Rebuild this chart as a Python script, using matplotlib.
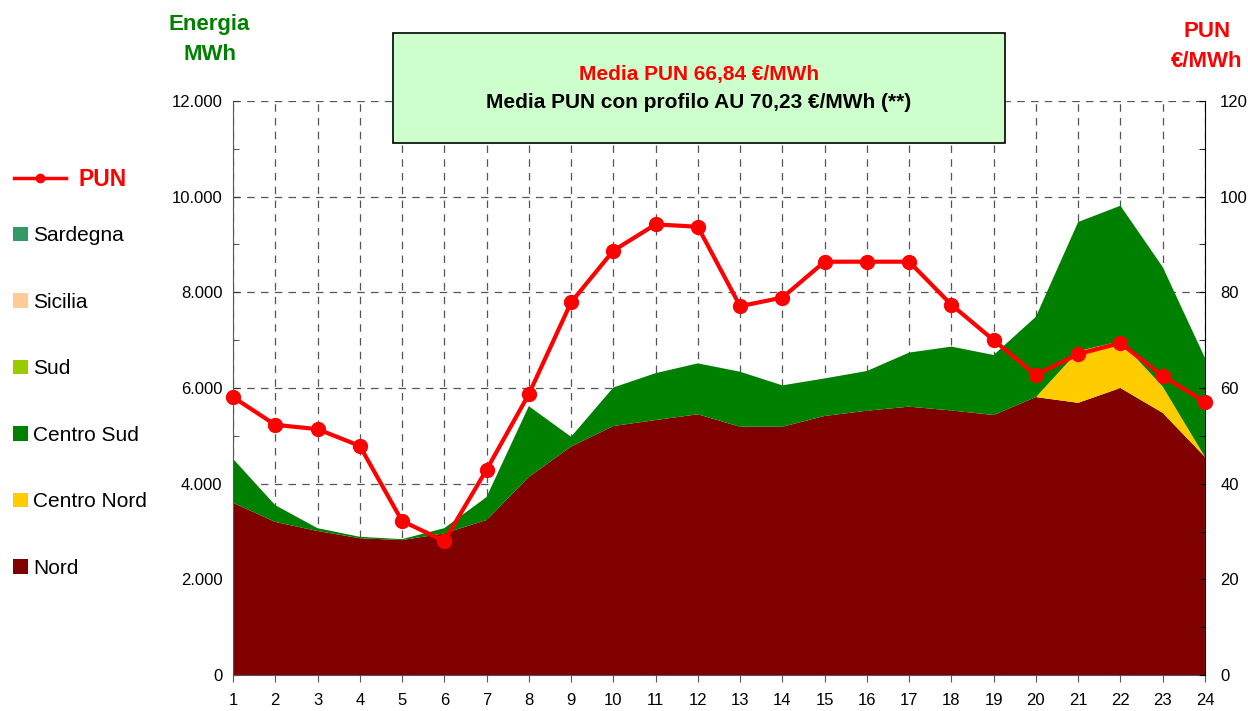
import matplotlib
matplotlib.use("Agg")
import matplotlib.pyplot as plt
from matplotlib.lines import Line2D
from matplotlib.patches import Patch
from matplotlib.ticker import FuncFormatter, MultipleLocator

plt.rcParams['font.family'] = ['Liberation Sans', 'DejaVu Sans']

hours = list(range(1, 25))
nord = [3600, 3200, 3010, 2860, 2820, 2960, 3240, 4140, 4775, 5205, 5330, 5450,
        5190, 5190, 5415, 5525, 5610, 5530, 5435, 5810, 5690, 6000, 5480, 4560]
centro_nord = [0, 0, 0, 0, 0, 0, 0, 0, 0, 0, 0, 0,
               0, 0, 0, 0, 0, 0, 0, 0, 1080, 980, 550, 0]
centro_sud = [920, 350, 60, 30, 20, 110, 480, 1480, 205, 805, 980, 1065,
              1150, 865, 785, 830, 1130, 1335, 1255, 1680, 2700, 2830, 2500, 2070]
sud = [0] * 24
sicilia = [0] * 24
sardegna = [0] * 24
pun = [58.1, 52.3, 51.4, 47.9, 32.2, 28.0, 42.9, 58.7, 77.9, 88.7, 94.2, 93.7,
       77.1, 78.9, 86.4, 86.4, 86.4, 77.4, 70.0, 62.7, 67.1, 69.4, 62.5, 57.1]

zone_labels = ['Nord', 'Centro Nord', 'Centro Sud', 'Sud', 'Sicilia', 'Sardegna']
zone_colors = ['#800000', '#FFCC00', '#008000', '#99CC00', '#FFCC99', '#339966']

fig = plt.figure(figsize=(12.48, 7.11), dpi=100)
ax = fig.add_axes([0.1867, 0.0506, 0.7788, 0.8074])
ax.stackplot(hours, nord, centro_nord, centro_sud, sud, sicilia, sardegna,
             colors=zone_colors, linewidth=0, zorder=2)
ax.set_xlim(1, 24)
ax.set_ylim(0, 12000)
ax.set_xticks(hours)
ax.yaxis.set_major_locator(MultipleLocator(2000))
ax.yaxis.set_minor_locator(MultipleLocator(1000))
ax.yaxis.set_major_formatter(FuncFormatter(lambda v, p: f"{int(v):,}".replace(',', '.')))
ax.grid(True, which='major', axis='both', color='#555555', linestyle=(0, (6, 5)),
        linewidth=0.9, zorder=1)
ax.set_axisbelow(True)
for s in ['top', 'right']:
    ax.spines[s].set_visible(False)
ax.spines['left'].set_color('#555555')
ax.spines['bottom'].set_color('#555555')
ax.tick_params(axis='y', which='both', direction='in', length=4, labelsize=12,
               color='#333333', pad=7.5)
ax.tick_params(axis='x', direction='out', length=5, labelsize=12, color='#555555', pad=8)

ax2 = ax.twinx()
ax2.plot(hours, pun, color='#FF0000', linewidth=3, marker='o', markersize=10,
         zorder=5, clip_on=False)
ax2.set_ylim(0, 120)
ax2.yaxis.set_major_locator(MultipleLocator(20))
ax2.yaxis.set_minor_locator(MultipleLocator(10))
for s in ['top', 'left', 'bottom']:
    ax2.spines[s].set_visible(False)
ax2.spines['right'].set_color('black')
ax2.tick_params(axis='y', which='both', direction='in', length=4, labelsize=12, pad=11)

# Axis titles
fig.text(0.168, 0.966, 'Energia', color='#008000', fontsize=16, fontweight='bold',
         ha='center', va='center')
fig.text(0.168, 0.924, 'MWh', color='#008000', fontsize=16, fontweight='bold',
         ha='center', va='center')
fig.text(0.967, 0.956, 'PUN', color='#FF0000', fontsize=16, fontweight='bold',
         ha='center', va='center')
fig.text(0.967, 0.913, '€/MWh', color='#FF0000', fontsize=16, fontweight='bold',
         ha='center', va='center')

# Info box
box = plt.Rectangle((0.315, 0.799), 0.49, 0.154, transform=fig.transFigure,
                    facecolor='#CCFFCC', edgecolor='black', linewidth=1.2, zorder=10)
fig.add_artist(box)
fig.text(0.56, 0.895, 'Media PUN 66,84 €/MWh', color='#FF0000', fontsize=15,
         fontweight='bold', ha='center', va='center', zorder=11)
fig.text(0.56, 0.856, 'Media PUN con profilo AU 70,23 €/MWh (**)', color='black',
         fontsize=15, fontweight='bold', ha='center', va='center', zorder=11)

# Legends
leg1 = fig.legend(handles=[Line2D([], [], color='#FF0000', linewidth=2.5, marker='o',
                                  markersize=6)],
                  labels=['PUN'], loc='center left', bbox_to_anchor=(-0.002, 0.747),
                  frameon=False, handlelength=2.3, handletextpad=0.55, fontsize=16.5,
                  borderpad=0.2)
for t in leg1.get_texts():
    t.set_color('#FF0000')
    t.set_fontweight('bold')

handles = [Patch(facecolor=c, edgecolor='none') for c in zone_colors[::-1]]
leg2 = fig.legend(handles=handles, labels=zone_labels[::-1], loc='upper left',
                  bbox_to_anchor=(-0.001, 0.702), frameon=False, fontsize=15,
                  handlelength=0.7, handleheight=0.7, handletextpad=0.25,
                  labelspacing=2.28, borderpad=0.2)

fig.savefig('out.png', dpi=100)
